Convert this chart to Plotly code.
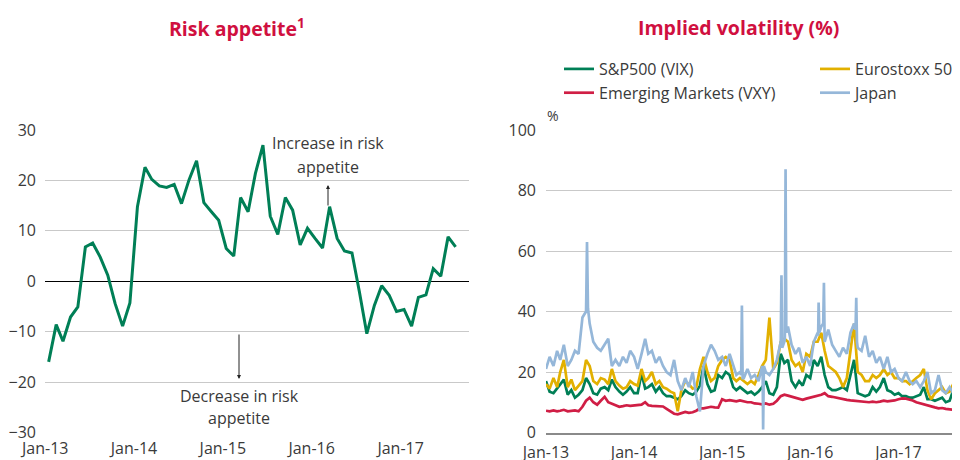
import plotly.graph_objects as go

# ---------------- data: left panel (monthly risk appetite index) ----------------
risk_dates = [f"{y}-{m:02d}-15" for y in range(2013, 2018) for m in range(1, 13)][:56]
risk_values = [-16.0, -8.6, -11.9, -7.1, -5.1, 6.8, 7.6, 4.8, 1.2, -4.4, -8.9, -4.3,
               14.8, 22.6, 20.2, 18.9, 18.6, 19.2, 15.4, 20.1, 23.9, 15.6, 13.8, 12.1,
               6.5, 5.0, 16.6, 13.8, 21.4, 27.0, 12.9, 9.3, 16.6, 14.1, 7.2, 10.5,
               8.5, 6.6, 14.8, 8.5, 6.0, 5.6, -2.0, -10.4, -4.8, -0.9, -2.8, -6.0,
               -5.6, -8.9, -3.2, -2.7, 2.5, 1.0, 8.8, 6.8]

# ---------------- data: right panel (implied volatility, semi-monthly reads) ----------------
vol_dates = [f"{y}-{m:02d}-{d:02d}" for y in range(2013, 2018) for m in range(1, 13) for d in (1, 16)][:113]

sp500_vix = [17, 13.5, 13, 14.5, 16, 17.5, 12.5, 14, 11.5, 12.5, 14, 18, 16, 13, 12.5, 14.5, 15, 14, 17.5, 15, 13.5, 12.5, 13.5, 15,
             13, 13, 19.5, 14.5, 15, 16, 13.5, 15, 13, 12, 12, 11.5, 11, 12, 14, 13, 12.5, 13.5, 15.5, 22, 16, 13.5, 14, 19,
             18, 20, 19, 15, 14, 15, 14, 13, 13.5, 12.5, 13.5, 15, 17, 13, 12.5, 15, 26, 23, 24, 17, 15, 17, 15.5, 19,
             18, 24, 22, 25, 19, 15, 14, 14, 14.5, 15, 14, 19, 24, 13, 12.5, 12, 12.5, 15, 13.5, 15, 18, 14, 13.5, 12.5,
             13, 12, 12, 11.5, 11.5, 12, 12.5, 15, 11, 11, 10.5, 11, 11.5, 10, 10.5, 14, 12.5]

eurostoxx50 = [16, 14.5, 18, 15, 20, 24, 15, 17.5, 14, 15.5, 17, 24, 22, 17, 16, 18, 17.5, 16, 21, 17, 15.5, 14.5, 15, 17,
               16, 15.5, 21, 17, 18, 20, 16, 17, 15, 14.5, 13.5, 13, 7, 14, 17, 16, 14.5, 15, 21, 25, 20, 17, 18, 22,
               24, 25, 24, 18, 17, 18, 17, 16, 17, 16, 19, 22, 24, 38, 21, 23, 30, 31, 30, 24, 22, 23, 20, 26,
               25, 30, 30, 33, 27, 22, 21, 20, 18, 15, 18, 28, 36, 20, 19, 17, 17, 19, 18, 19, 21, 19, 20, 18,
               18, 17, 17, 16, 17, 18, 19, 21, 14, 11, 13, 14, 15, 13, 13.5, 16, 15]

emerging_vxy = [7.2, 7, 7.3, 7, 7.2, 7.5, 7, 7.2, 7.3, 7, 8.5, 10.5, 11.5, 10, 9.2, 10.5, 11.8, 10, 9.5, 9, 8.5, 8.7, 9, 8.8,
                9, 9, 9.2, 10, 9, 8.8, 8.7, 8.5, 8.6, 7.8, 7, 6.2, 6, 6.3, 6.8, 6.5, 6.7, 7.2, 8, 8, 8.2, 8.5, 8.3, 8.2,
                11, 10.5, 10.7, 10.5, 10.3, 10.6, 10.2, 10, 10, 9.6, 9.5, 9.3, 9.6, 9.2, 9.5, 10.5, 12, 12.5, 12.2, 11.8, 11.5, 11.2, 10.8, 11.2,
                11.5, 11.8, 12.2, 12.5, 13, 12, 11.8, 11.5, 11.3, 11, 10.8, 10.6, 10.5, 10.4, 10.3, 10.2, 10, 10.2, 10, 10.2, 10.5, 10.3, 10.4, 10.6,
                11, 11.3, 11.2, 11, 10.6, 10, 9.6, 9.2, 9, 8.5, 8.3, 8, 8.1, 7.8, 7.6, 7.5, 7.3]

japan = [21, 25, 22, 27, 24, 29, 22, 24, 27, 26, 38, 40, 36, 30, 28, 27, 29, 31, 22, 24, 22, 25, 23, 27,
         25, 21, 26, 31, 26, 27, 23, 25, 22, 20, 19, 24, 17, 14, 18, 15, 20, 12, 7, 22, 26, 29, 27, 24,
         25, 22, 26, 22, 19, 20, 18, 21, 18, 19, 17, 22, 20, 19, 21, 24, 30, 30, 35, 29, 26, 28, 23, 25,
         22, 30, 33, 35, 30, 34, 29, 27, 25, 28, 26, 33, 36, 28, 27, 32, 25, 27, 23, 25, 21, 25, 20, 21,
         18, 17, 20, 17, 16, 17, 15, 17, 20, 13, 14, 19, 14, 13, 15, 13, 14]

# short-lived spikes in the Japan series
japan_spike_dates = ["2013-06-17", "2013-06-20", "2013-06-24",
                     "2015-03-21", "2015-03-24", "2015-03-27",
                     "2015-06-18", "2015-06-20", "2015-06-23",
                     "2015-09-04", "2015-09-07",
                     "2015-09-18", "2015-09-21", "2015-09-24",
                     "2016-02-03", "2016-02-05", "2016-02-08",
                     "2016-02-24", "2016-02-27", "2016-02-29",
                     "2016-07-07", "2016-07-10", "2016-07-13"]
japan_spike_values = [45, 63, 41,
                      19, 42, 18,
                      20, 1, 22,
                      52, 28,
                      31, 87, 33,
                      32, 43, 33,
                      36, 49.5, 33,
                      34, 44.5, 30]

year_ticks = ["2013-01-01", "2014-01-01", "2015-01-01", "2016-01-01", "2017-01-01"]
year_labels = ["Jan-13", "Jan-14", "Jan-15", "Jan-16", "Jan-17"]

# ---------------- styling ----------------
FONT = "Open Sans"
TXT = "#3a3a3a"
TITLE_RED = "#D0103F"
GREEN = "#007F56"
YELLOW = "#E2B000"
RED = "#D01E45"
BLUE = "#95B7D9"
GRID = "#c9c9c9"

W, H = 960, 460
OFF = 8  # page body margin of the html page


def px(xs):
    return (xs - OFF) / W


def py(ys):
    return 1 - (ys - OFF) / H


ydom = [py(432.5), py(130)]

fig = go.Figure()

fig.add_trace(go.Scatter(x=risk_dates, y=risk_values, mode="lines",
                         line=dict(color=GREEN, width=3), showlegend=False,
                         xaxis="x", yaxis="y", hoverinfo="skip"))

jp = sorted(zip(vol_dates + japan_spike_dates, japan + japan_spike_values))
jp_dates = [d for d, _ in jp]
jp_vals = [v for _, v in jp]

LW = 2.7
fig.add_trace(go.Scatter(x=vol_dates, y=sp500_vix, mode="lines", name="S&P500 (VIX)",
                         line=dict(color=GREEN, width=LW), xaxis="x2", yaxis="y2", legend="legend"))
fig.add_trace(go.Scatter(x=vol_dates, y=eurostoxx50, mode="lines", name="Eurostoxx 50",
                         line=dict(color=YELLOW, width=LW), xaxis="x2", yaxis="y2", legend="legend2"))
fig.add_trace(go.Scatter(x=vol_dates, y=emerging_vxy, mode="lines", name="Emerging Markets (VXY)",
                         line=dict(color=RED, width=LW), xaxis="x2", yaxis="y2", legend="legend"))
fig.add_trace(go.Scatter(x=jp_dates, y=jp_vals, mode="lines", name="Japan",
                         line=dict(color=BLUE, width=LW), xaxis="x2", yaxis="y2", legend="legend2"))

tickfont = dict(family=FONT, size=16, color=TXT)
legfont = dict(family=FONT, size=16, color=TXT)

fig.update_layout(
    width=W, height=H,
    margin=dict(l=0, r=0, t=0, b=0),
    paper_bgcolor="white", plot_bgcolor="white",
    font=dict(family=FONT, size=16, color=TXT),
    xaxis=dict(domain=[px(45), px(469)], range=["2012-12-31", "2017-10-09"],
               tickvals=year_ticks, ticktext=year_labels, showgrid=False,
               zeroline=False, showline=False, ticks="", tickfont=tickfont,
               ticklabelstandoff=4, automargin=False, anchor="y"),
    yaxis=dict(domain=ydom, range=[-30, 30], dtick=10, showgrid=True, gridcolor=GRID,
               gridwidth=1, zeroline=True, zerolinecolor="#000000", zerolinewidth=1,
               showline=False, ticks="", tickfont=tickfont, ticklabelstandoff=8,
               automargin=False, anchor="x"),
    xaxis2=dict(domain=[px(546), px(960)], range=["2013-01-01", "2017-09-13"],
                tickvals=year_ticks, ticktext=year_labels, showgrid=False,
                zeroline=False, showline=True, linecolor="#8a8a8a", linewidth=2,
                ticks="", tickfont=tickfont, ticklabelstandoff=4, automargin=False,
                anchor="y2"),
    yaxis2=dict(domain=ydom, range=[0, 100], dtick=20, showgrid=True, gridcolor=GRID,
                gridwidth=1, zeroline=False, showline=False, ticks="", tickfont=tickfont,
                ticklabelstandoff=9, automargin=False, anchor="x2"),
    legend=dict(orientation="v", x=px(559), xanchor="left", y=py(52), yanchor="top",
                itemwidth=30, font=legfont, bgcolor="rgba(0,0,0,0)", tracegroupgap=0),
    legend2=dict(orientation="v", x=px(815), xanchor="left", y=py(52), yanchor="top",
                 itemwidth=30, font=legfont, bgcolor="rgba(0,0,0,0)", tracegroupgap=0),
    hovermode=False,
)

ann_font = dict(family=FONT, size=16, color=TXT)
annotations = [
    dict(text="<b>Risk appetite<sup>1</sup></b>", x=px(237), y=py(28), xref="paper", yref="paper",
         showarrow=False, font=dict(family=FONT, size=19.5, color=TITLE_RED), xanchor="center", yanchor="middle"),
    dict(text="<b>Implied volatility (%)</b>", x=px(738), y=py(28), xref="paper", yref="paper",
         showarrow=False, font=dict(family=FONT, size=19.5, color=TITLE_RED), xanchor="center", yanchor="middle"),
    dict(text="%", x=px(553), y=py(115), xref="paper", yref="paper", showarrow=False,
         font=dict(family=FONT, size=14, color=TXT), xanchor="center", yanchor="middle"),
    dict(text="Increase in risk", x=px(328), y=py(143), xref="paper", yref="paper", showarrow=False,
         font=ann_font, xanchor="center", yanchor="middle"),
    dict(text="appetite", x=px(328), y=py(167), xref="paper", yref="paper", showarrow=False,
         font=ann_font, xanchor="center", yanchor="middle"),
    dict(text="Decrease in risk", x=px(239), y=py(396), xref="paper", yref="paper", showarrow=False,
         font=ann_font, xanchor="center", yanchor="middle"),
    dict(text="appetite", x=px(239), y=py(418), xref="paper", yref="paper", showarrow=False,
         font=ann_font, xanchor="center", yanchor="middle"),
    dict(text="", x=px(328), y=py(185), xref="paper", yref="paper", showarrow=True,
         ax=0, ay=22, arrowhead=2, arrowsize=0.8, arrowwidth=1, arrowcolor="#222222"),
    dict(text="", x=px(239), y=py(379), xref="paper", yref="paper", showarrow=True,
         ax=0, ay=-46, arrowhead=2, arrowsize=0.8, arrowwidth=1, arrowcolor="#222222"),
]
fig.update_layout(annotations=annotations)

fig.write_html("out.html")
